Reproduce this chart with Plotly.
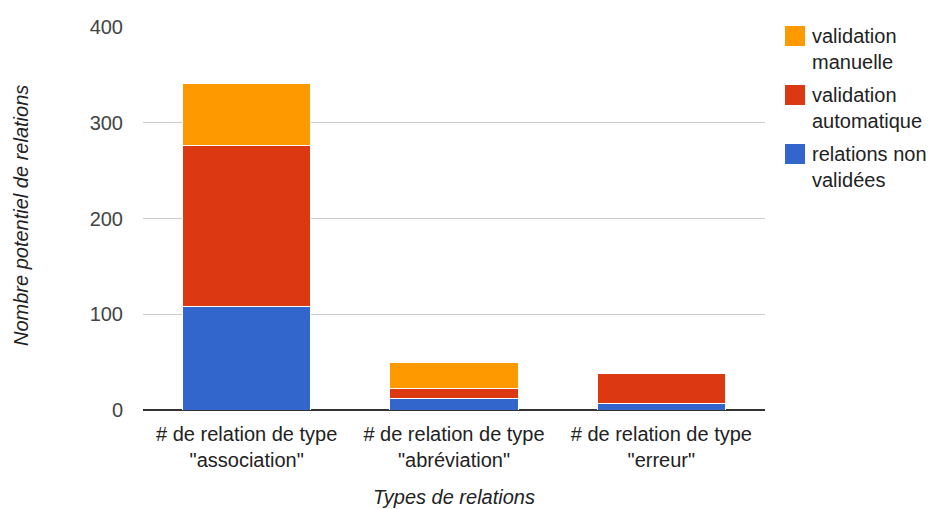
import plotly.graph_objects as go

categories = ['# de relation de type<br>"association"',
              '# de relation de type<br>"abréviation"',
              '# de relation de type<br>"erreur"']
non_validees = [108, 12, 7]
validation_auto = [168, 10, 31]
validation_manuelle = [65, 28, 0]

series = [
    ("relations non<br>validées", non_validees, "#3366cc"),
    ("validation<br>automatique", validation_auto, "#dc3912"),
    ("validation<br>manuelle", validation_manuelle, "#ff9900"),
]

W, H = 930, 509
ML, MR, MT, MB = 143, 165, 27, 99
PW, PH = W - ML - MR, H - MT - MB


def px_x(x):
    return (x - ML) / PW


def px_y(y):
    return (H - MB - y) / PH


FONT = "Liberation Sans, Arial, sans-serif"

fig = go.Figure()
for name, vals, color in series:
    fig.add_trace(go.Bar(
        x=categories, y=vals, name=name,
        marker=dict(color=color, line=dict(color="white", width=1)),
        showlegend=False,
    ))

# hand-drawn legend: coloured squares with two-line labels
legend_tops = [26, 85, 144]
for (name, vals, color), top in zip(reversed(series), legend_tops):
    fig.add_shape(type="rect", xref="paper", yref="paper",
                  x0=px_x(785), x1=px_x(805), y0=px_y(top + 20), y1=px_y(top),
                  fillcolor=color, line=dict(width=0))
    fig.add_annotation(xref="paper", yref="paper", x=px_x(810), y=px_y(top + 23),
                       xanchor="left", yanchor="middle", showarrow=False, align="left",
                       text=name, font=dict(family=FONT, size=20, color="#222222"))

# vertical axis title
fig.add_annotation(xref="paper", yref="paper", x=px_x(21), y=px_y(216),
                   xanchor="center", yanchor="middle", showarrow=False, textangle=-90,
                   text="<i>Nombre potentiel de relations</i>",
                   font=dict(family=FONT, size=20, color="#222222"))

fig.update_layout(
    width=W, height=H,
    margin=dict(l=ML, r=MR, t=MT, b=MB),
    barmode="stack", bargap=0.38,
    plot_bgcolor="white", paper_bgcolor="white",
    font=dict(family=FONT, size=20, color="#222222"),
    xaxis=dict(
        showgrid=False, ticks="", showline=False, automargin=False,
        tickfont=dict(size=20, color="#222222"),
        ticklabelstandoff=10,
        title=dict(text="<i>Types de relations</i>", standoff=19,
                   font=dict(size=20, color="#222222")),
    ),
    yaxis=dict(
        range=[0, 400], dtick=100, showgrid=True, gridcolor="#cccccc", gridwidth=1,
        zeroline=True, zerolinecolor="#333333", zerolinewidth=2, automargin=False,
        ticks="", showline=False, ticklabelstandoff=19,
        tickfont=dict(size=20, color="#444444"),
    ),
)

fig.write_html("out.html")
